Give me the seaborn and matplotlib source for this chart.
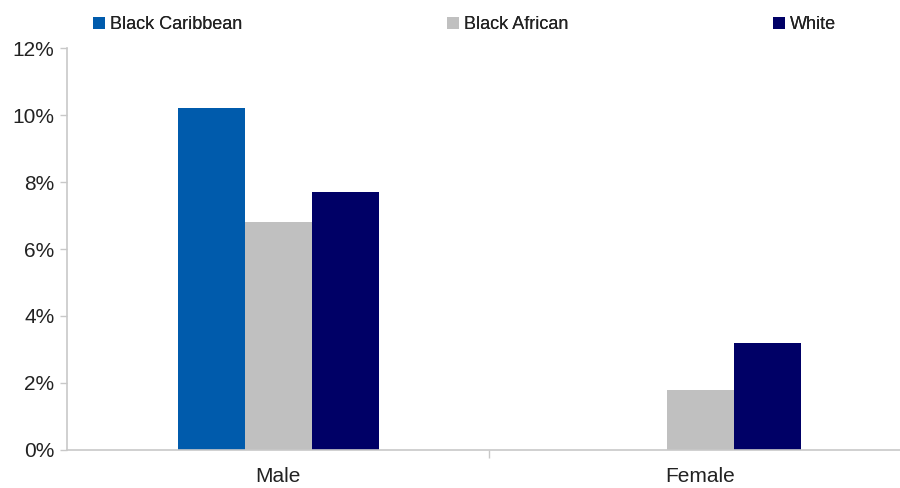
import numpy as np
import pandas as pd
import matplotlib
matplotlib.use("Agg")
import matplotlib.pyplot as plt
from matplotlib.ticker import FuncFormatter
import seaborn as sns

# Rates by sex and ethnic group (percent)
sexes = ["Male", "Female"]
groups = ["Black Caribbean", "Black African", "White"]
black_caribbean = [10.2, np.nan]
black_african = [6.8, 1.8]
white = [7.7, 3.2]
colors = ["#005BAC", "#C0C0C0", "#000066"]
y_ticks = [0, 2, 4, 6, 8, 10, 12]

rows = []
for grp, vals in zip(groups, [black_caribbean, black_african, white]):
    for sex, v in zip(sexes, vals):
        rows.append({"sex": sex, "group": grp, "value": v})
df = pd.DataFrame(rows)

sns.set_style("white")
plt.rcParams["font.family"] = ["Liberation Sans", "DejaVu Sans"]

fig = plt.figure(figsize=(9, 4.88), dpi=100)
ax = fig.add_axes([0.0744, 0.0779, 0.9256, 0.8237])

sns.barplot(data=df, x="sex", y="value", hue="group", order=sexes,
            hue_order=groups, palette=colors, width=0.476, errorbar=None,
            saturation=1, edgecolor="none", ax=ax)

ax.set_xlim(-0.5, 1.4727)
ax.set_ylim(0, 12)
ax.set_yticks(y_ticks)
ax.yaxis.set_major_formatter(FuncFormatter(lambda v, p: f"{v:.0f}%"))
ax.set_xlabel("")
ax.set_ylabel("")

for side in ["top", "right"]:
    ax.spines[side].set_visible(False)
for side in ["left", "bottom"]:
    ax.spines[side].set_color("#C8C8C8")
    ax.spines[side].set_linewidth(1.2)

ax.tick_params(axis="y", which="both", left=True, length=5, width=1,
               color="#C8C8C8", labelsize=15, labelcolor="#222222", pad=4)
ax.tick_params(axis="x", which="major", bottom=False, labelsize=15,
               labelcolor="#222222", pad=9)
# separator tick between the two sex categories
ax.set_xticks([0.5], minor=True)
ax.tick_params(axis="x", which="minor", bottom=True, length=6, width=1,
               color="#C8C8C8")

handles, labels = ax.get_legend_handles_labels()
ax.get_legend().remove()
legend_x = [0.1033, 0.4967, 0.8589]
for h, l, lx in zip(handles, labels, legend_x):
    leg = fig.legend([h], [l], loc="center left", bbox_to_anchor=(lx, 0.950),
                     frameon=False, fontsize=13, handlelength=0.65,
                     handleheight=0.65, handletextpad=0.28, borderaxespad=0,
                     borderpad=0)
    for t in leg.get_texts():
        t.set_color("#222222")
    fig.add_artist(leg)

fig.savefig("out.png", dpi=100)
